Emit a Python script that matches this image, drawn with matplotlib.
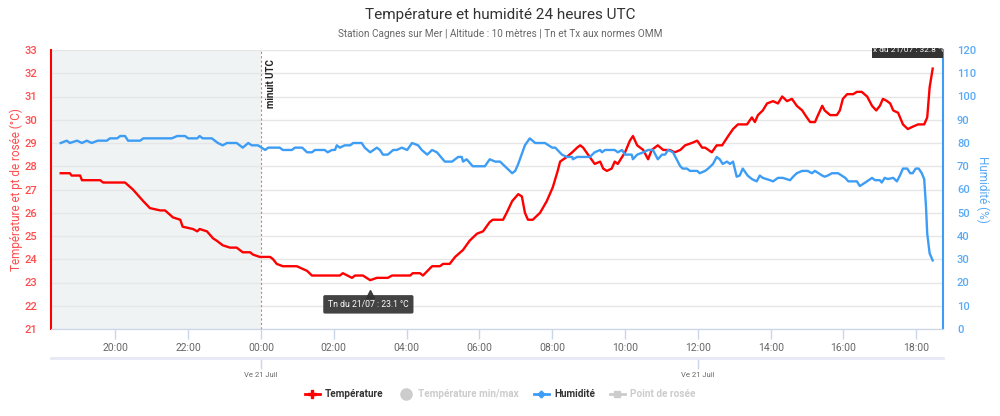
import datetime as dt
import matplotlib
matplotlib.use('Agg')
import matplotlib.pyplot as plt
import matplotlib.dates as mdates
from matplotlib.lines import Line2D
from matplotlib.patches import Rectangle

plt.rcParams['font.family'] = ['Roboto', 'DejaVu Sans']

# temperature (°C), times UTC from 20/07 18:30 to 21/07 18:27
temp_times = ['18:30', '18:45', '18:48', '19:02', '19:05', '19:35', '19:40', '20:16', '20:29', '20:46',
              '20:57', '21:14', '21:22', '21:35', '21:47', '21:51', '22:08', '22:15', '22:19', '22:31',
              '22:41', '22:47', '22:57', '23:09', '23:20', '23:30', '23:42', '23:47', '23:58', '00:15',
              '00:20', '00:26', '00:36', '00:59', '01:16', '01:24', '02:10', '02:15', '02:30', '02:35',
              '02:48', '03:00', '03:11', '03:29', '03:36', '04:06', '04:10', '04:22', '04:27', '04:42',
              '04:55', '05:00', '05:11', '05:20', '05:33', '05:44', '05:56', '06:06', '06:17', '06:22',
              '06:39', '06:45', '06:54', '07:04', '07:10', '07:15', '07:20', '07:28', '07:40', '07:51',
              '08:01', '08:09', '08:13', '08:24', '08:33', '08:41', '08:46', '08:51', '08:59', '09:10',
              '09:19', '09:24', '09:30', '09:38', '09:43', '09:48', '10:00', '10:08', '10:13', '10:20',
              '10:25', '10:30', '10:38', '10:44', '10:54', '11:03', '11:14', '11:22', '11:31', '11:39',
              '11:50', '11:59', '12:07', '12:12', '12:23', '12:31', '12:40', '12:50', '12:58', '13:06',
              '13:21', '13:29', '13:34', '13:39', '13:47', '13:54', '14:04', '14:12', '14:19', '14:27',
              '14:35', '14:43', '14:52', '14:57', '15:05', '15:13', '15:18', '15:25', '15:29', '15:38',
              '15:49', '15:54', '15:59', '16:06', '16:16', '16:22', '16:30', '16:39', '16:47', '16:54',
              '17:00', '17:05', '17:12', '17:17', '17:22', '17:30', '17:38', '17:46', '17:54', '18:03',
              '18:13', '18:18', '18:22', '18:27']
temp_values = [27.7, 27.7, 27.6, 27.6, 27.4, 27.4, 27.3, 27.3, 27.0, 26.5,
               26.2, 26.1, 26.1, 25.8, 25.7, 25.4, 25.3, 25.2, 25.3, 25.2,
               24.9, 24.8, 24.6, 24.5, 24.5, 24.3, 24.3, 24.2, 24.1, 24.1,
               24.0, 23.8, 23.7, 23.7, 23.5, 23.3, 23.3, 23.4, 23.2, 23.3,
               23.3, 23.1, 23.2, 23.2, 23.3, 23.3, 23.4, 23.4, 23.3, 23.7,
               23.7, 23.8, 23.8, 24.1, 24.4, 24.8, 25.1, 25.2, 25.6, 25.7,
               25.7, 26.0, 26.5, 26.8, 26.7, 26.0, 25.7, 25.7, 26.0, 26.5,
               27.1, 27.8, 28.2, 28.4, 28.6, 28.8, 28.9, 28.8, 28.5, 28.1,
               28.2, 27.9, 27.8, 27.9, 28.2, 28.1, 28.6, 29.1, 29.3, 28.9,
               28.8, 28.7, 28.3, 28.7, 28.9, 28.7, 28.7, 28.6, 28.7, 28.9,
               29.0, 29.1, 28.8, 28.8, 28.6, 28.9, 28.9, 29.3, 29.6, 29.8,
               29.8, 30.1, 29.9, 30.2, 30.4, 30.7, 30.8, 30.7, 31.0, 30.8,
               30.9, 30.6, 30.4, 30.2, 29.9, 29.9, 30.2, 30.6, 30.4, 30.2,
               30.2, 30.4, 30.9, 31.1, 31.1, 31.2, 31.2, 31.0, 30.6, 30.4,
               30.6, 30.9, 30.8, 30.7, 30.4, 30.3, 29.8, 29.6, 29.7, 29.8,
               29.8, 30.1, 31.4, 32.2]

# relative humidity (%)
hum_times = ['18:30', '18:40', '18:45', '18:57', '19:05', '19:13', '19:21', '19:31', '19:46', '19:51',
             '20:03', '20:08', '20:16', '20:21', '20:41', '20:46', '21:33', '21:42', '21:55', '22:00',
             '22:15', '22:19', '22:24', '22:39', '22:49', '22:57', '23:04', '23:20', '23:30', '23:39',
             '23:45', '23:55', '00:07', '00:12', '00:31', '00:36', '00:51', '00:56', '01:08', '01:16',
             '01:24', '01:29', '01:45', '01:50', '01:57', '02:02', '02:05', '02:10', '02:18', '02:27',
             '02:32', '02:46', '02:51', '03:00', '03:11', '03:16', '03:21', '03:29', '03:38', '03:44',
             '03:52', '04:01', '04:09', '04:19', '04:25', '04:34', '04:42', '04:50', '05:03', '05:15',
             '05:25', '05:31', '05:33', '05:39', '05:49', '06:09', '06:17', '06:26', '06:34', '06:42',
             '06:54', '06:59', '07:04', '07:15', '07:23', '07:32', '07:48', '08:00', '08:05', '08:16',
             '08:24', '08:33', '08:34', '08:41', '09:02', '09:10', '09:19', '09:22', '09:27', '09:43',
             '09:48', '09:55', '10:00', '10:11', '10:13', '10:20', '10:30', '10:38', '10:46', '10:54',
             '11:01', '11:06', '11:11', '11:19', '11:31', '11:35', '11:42', '11:47', '11:59', '12:03',
             '12:12', '12:17', '12:25', '12:31', '12:36', '12:41', '12:48', '12:53', '12:58', '13:04',
             '13:09', '13:14', '13:22', '13:29', '13:37', '13:42', '13:47', '13:59', '14:04', '14:12',
             '14:20', '14:32', '14:37', '14:43', '14:52', '15:01', '15:08', '15:13', '15:25', '15:29',
             '15:34', '15:41', '15:51', '16:03', '16:08', '16:22', '16:27', '16:36', '16:47', '16:52',
             '17:00', '17:03', '17:08', '17:13', '17:22', '17:28', '17:33', '17:38', '17:45', '17:50',
             '17:54', '17:59', '18:04', '18:09', '18:13', '18:16', '18:18', '18:22', '18:27']
hum_values = [80, 81, 80, 81, 80, 81, 80, 81, 81, 82,
              82, 83, 83, 81, 81, 82, 82, 83, 83, 82,
              82, 83, 82, 82, 80, 79, 80, 80, 78, 80,
              79, 79, 77, 78, 78, 77, 77, 78, 78, 76,
              76, 77, 77, 76, 77, 77, 79, 78, 79, 79,
              80, 80, 78, 76, 78, 77, 75, 75, 77, 77,
              78, 77, 80, 79, 77, 75, 77, 76, 72, 72,
              74, 74, 72, 73, 70, 70, 73, 72, 72, 70,
              67, 68, 71, 79, 82, 80, 80, 78, 78, 75,
              74, 74, 73, 74, 74, 76, 77, 76, 77, 77,
              76, 77, 75, 75, 73, 75, 76, 77, 77, 73,
              75, 75, 77, 76, 70, 69, 69, 68, 68, 67,
              68, 69, 71, 74, 73, 71, 72, 71, 72, 65.5,
              66, 69, 66, 64.5, 63.5, 66, 65, 64, 63.5, 65,
              65, 64, 65.5, 67, 68, 68, 67, 68, 66, 65.5,
              66, 67, 67, 65, 63.5, 63.5, 61.5, 63, 65, 64,
              64, 63, 65, 64.5, 65, 63.5, 66, 69, 69, 67,
              67, 69, 69, 67, 64.5, 52.5, 41, 32.5, 29.5]

tx_value = 32.8
date_ticks = ['00:00', '12:00']
date_labels = ['Ve 21 Juil', 'Ve 21 Juil']


def to_datetimes(times, start=dt.datetime(2023, 7, 20)):
    out = []
    day = start
    prev = None
    for t in times:
        h, m = map(int, t.split(':'))
        if prev is not None and (h, m) < prev:
            day = day + dt.timedelta(days=1)
        prev = (h, m)
        out.append(day.replace(hour=h, minute=m))
    return out


temp_x = to_datetimes(temp_times)
hum_x = to_datetimes(hum_times)
midnight = dt.datetime(2023, 7, 21)
x0 = dt.datetime(2023, 7, 20, 18, 14)
x1 = dt.datetime(2023, 7, 21, 18, 44)

W, H = 1000, 416
fig = plt.figure(figsize=(10, 4.16), dpi=100)
L, R, T, B = 51, 943, 50, 329
ax = fig.add_axes([L / W, 1 - B / H, (R - L) / W, (B - T) / H])
ax2 = ax.twinx()

red = '#ff0000'
blue = '#3d9df5'
grid = '#e6e6e6'

ax.axvspan(x0, midnight, color='#eff3f4', zorder=0, lw=0)
ax.axvline(midnight, color='#ff6666', lw=0.8, ls=(0, (2, 2)), zorder=1)
ax.text(midnight + dt.timedelta(minutes=9), 32.6, 'minuit UTC', rotation=90, fontsize=7,
        fontweight='bold', color='#222', va='top', ha='left')

ax.plot(temp_x, temp_values, color=red, lw=1.7, zorder=4)
ax2.plot(hum_x, hum_values, color=blue, lw=1.7, zorder=3)

ax.set_xlim(x0, x1)
ax.set_ylim(21, 33)
ax.set_yticks(range(21, 34))
ax2.set_ylim(0, 120)
ax2.set_yticks(range(0, 121, 10))
ax.grid(axis='y', color=grid, lw=1)
ax.set_axisbelow(True)

ax.xaxis.set_major_locator(mdates.HourLocator(byhour=range(0, 24, 2)))
ax.xaxis.set_major_formatter(mdates.DateFormatter('%H:%M'))
ax.tick_params(axis='x', colors='#ccd6eb', labelcolor='#666666', labelsize=7.5, length=7, width=1, pad=3)
ax.tick_params(axis='y', colors=red, labelcolor='#ff4d4d', labelsize=8, length=0, pad=10)
ax2.tick_params(axis='y', colors=blue, labelcolor='#5aaaf5', labelsize=8, length=0, pad=10)
for lab in ax.get_yticklabels() + ax2.get_yticklabels():
    lab.set_fontweight('medium')

for a in (ax, ax2):
    a.spines['top'].set_visible(False)
    a.spines['bottom'].set_color('#ccd6eb')
ax.spines['left'].set_color(red)
ax.spines['left'].set_linewidth(1.5)
ax.spines['right'].set_visible(False)
ax2.spines['left'].set_visible(False)
ax2.spines['right'].set_color(blue)
ax2.spines['right'].set_linewidth(1.5)

ax.set_ylabel('Température et pt de rosée (°C)', color='#ff4d4d', fontsize=8.5, labelpad=1)
ax2.set_ylabel('Humidité (%)', color='#5aaaf5', fontsize=8.5, rotation=270, labelpad=10)

# Tn tooltip under the minimum
tn_i = temp_values.index(min(temp_values))
ax.text(temp_x[tn_i] - dt.timedelta(minutes=3), 22.06, 'Tn du 21/07 : %.1f °C' % temp_values[tn_i],
        ha='center', va='center', fontsize=6.2, color='white', zorder=6,
        bbox=dict(boxstyle='round,pad=0.55,rounding_size=0.2', fc='#333333', ec='none', alpha=0.92))
ax.plot([temp_x[tn_i]], [22.52], marker='^', markersize=6, color='#333333', alpha=0.92, zorder=6, ls='none')

# Tx tooltip, cut by the top of the plot
tx_box = Rectangle((872 / W, 1 - 58 / H), 71 / W, 10 / H, transform=fig.transFigure,
                   fc='#333333', ec='none', zorder=6)
fig.patches.append(tx_box)
tx_text = fig.text(907 / W, 1 - 49 / H, 'Tx du 21/07 : %.1f °C' % tx_value, fontsize=6, color='white',
                   ha='center', va='center', zorder=7)
tx_text.set_clip_path(tx_box)

# navigator date axis
axn = fig.add_axes([L / W, 1 - 358 / H, (R - L) / W, 0.0001])
axn.set_xlim(x0, x1)
axn.set_yticks([])
for s in ('top', 'left', 'right'):
    axn.spines[s].set_visible(False)
axn.spines['bottom'].set_color('#e6e9f5')
axn.spines['bottom'].set_linewidth(2)
axn.set_xticks([dt.datetime.combine(midnight.date(), dt.time(int(t[:2]), int(t[3:]))) for t in date_ticks])
axn.set_xticklabels(date_labels)
axn.tick_params(axis='x', colors='#ccd6eb', labelcolor='#666666', labelsize=5.5, length=8, width=1, pad=2)
axn.patch.set_visible(False)

fig.text(0.5, 1 - 15 / H, 'Température et humidité 24 heures UTC', ha='center', va='center',
         fontsize=11, color='#333333')
fig.text(0.5, 1 - 34 / H, 'Station Cagnes sur Mer | Altitude : 10 mètres | Tn et Tx aux normes OMM',
         ha='center', va='center', fontsize=7.2, color='#666666')

handles = [
    Line2D([], [], color=red, lw=2, marker='P', markersize=6),
    Line2D([], [], color='#cccccc', lw=0, marker='o', markersize=8),
    Line2D([], [], color=blue, lw=2, marker='D', markersize=3.5),
    Line2D([], [], color='#cccccc', lw=2, marker='s', markersize=4.5),
]
labels = ['Température', 'Température min/max', 'Humidité', 'Point de rosée']
leg = fig.legend(handles, labels, loc='center', bbox_to_anchor=(0.5, 1 - 394 / H), ncol=4,
                 frameon=False, fontsize=7.2, handlelength=1.5, columnspacing=1.5, handletextpad=0.5)
for txt, c in zip(leg.get_texts(), ['#333333', '#cccccc', '#333333', '#cccccc']):
    txt.set_color(c)
    txt.set_fontweight('bold')

fig.savefig('out.png', dpi=100)
